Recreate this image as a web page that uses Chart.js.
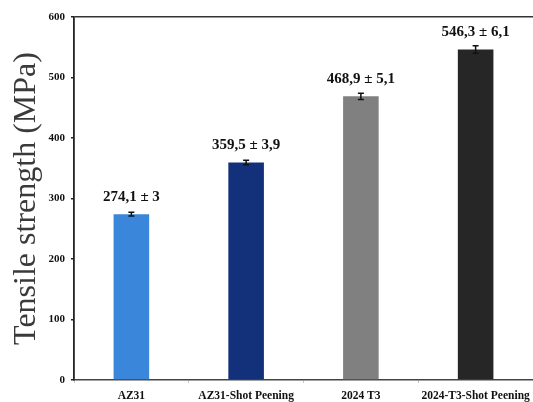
<!DOCTYPE html>
<html>
<head>
<meta charset="utf-8">
<script src="https://cdn.jsdelivr.net/npm/chart.js@4/dist/chart.umd.min.js"></script>
<style>
  html, body { margin: 0; padding: 0; background: #ffffff; }
  #wrap { width: 533px; height: 402px; }
</style>
</head>
<body>
<div id="wrap"><canvas id="chart" width="533" height="402"></canvas></div>
<script>
// Tensile strength of the four material conditions (MPa), with standard deviation
const categories = ['AZ31', 'AZ31-Shot Peening', '2024 T3', '2024-T3-Shot Peening'];
const strength = [274.1, 359.5, 468.9, 546.3];
const deviation = [3, 3.9, 5.1, 6.1];
const barColors = ['#3a86da', '#13317b', '#808080', '#262626'];
const yTicks = [0, 100, 200, 300, 400, 500, 600];

const serif = "'Liberation Serif', 'Times New Roman', serif";

function fmt(n) {
  return String(n).replace('.', ',');
}

// Error bars and "mean ± sd" labels above each bar
const errorBarsAndLabels = {
  id: 'errorBarsAndLabels',
  afterDatasetsDraw(chart) {
    const ctx = chart.ctx;
    const meta = chart.getDatasetMeta(0);
    const y = chart.scales.y;
    ctx.save();
    meta.data.forEach((bar, i) => {
      const cx = bar.x;
      const hi = y.getPixelForValue(strength[i] + deviation[i]);
      const lo = y.getPixelForValue(strength[i] - deviation[i]);
      ctx.strokeStyle = '#111';
      ctx.lineWidth = 1.5;
      ctx.beginPath();
      ctx.moveTo(cx, hi); ctx.lineTo(cx, lo);
      ctx.moveTo(cx - 3, hi); ctx.lineTo(cx + 3, hi);
      ctx.moveTo(cx - 3, lo); ctx.lineTo(cx + 3, lo);
      ctx.stroke();

      ctx.fillStyle = '#111';
      ctx.font = 'bold 15px ' + serif;
      ctx.textAlign = 'center';
      ctx.textBaseline = 'middle';
      const top = y.getPixelForValue(strength[i]);
      ctx.fillText(fmt(strength[i]) + ' ± ' + fmt(deviation[i]), cx, top - 17);
    });
    ctx.restore();
  }
};

new Chart(document.getElementById('chart'), {
  type: 'bar',
  data: {
    labels: categories,
    datasets: [{
      data: strength,
      backgroundColor: barColors,
      borderWidth: 0,
      categoryPercentage: 0.31,
      barPercentage: 1
    }]
  },
  options: {
    responsive: false,
    animation: false,
    layout: { padding: { top: 17, right: 0, bottom: 0, left: 0 } },
    plugins: {
      legend: { display: false },
      tooltip: { enabled: false }
    },
    scales: {
      x: {
        grid: {
          offset: true,
          drawOnChartArea: false,
          tickLength: 3,
          color: '#c8c8c8'
        },
        border: { display: true, color: '#444', width: 1.5 },
        ticks: {
          color: '#111',
          padding: 6,
          maxRotation: 0,
          autoSkip: false,
          font: { family: serif, weight: 'bold', size: 11.5 }
        },
        afterFit(scale) {
          scale.height = 22;
          scale.paddingLeft = 0;
          scale.paddingRight = 0;
        }
      },
      y: {
        min: 0,
        max: 600,
        afterBuildTicks(scale) { scale.ticks = yTicks.map(v => ({ value: v })); },
        grid: {
          drawOnChartArea: true,
          tickLength: 3,
          tickColor: '#222',
          color: ctx => (ctx.tick && ctx.tick.value === 600 ? '#333' : 'rgba(0,0,0,0)'),
          lineWidth: 1.5
        },
        border: { display: true, color: '#222', width: 1.8 },
        ticks: {
          color: '#111',
          padding: 6,
          font: { family: serif, weight: 'bold', size: 11 }
        },
        title: {
          display: true,
          text: 'Tensile strength (MPa)',
          color: '#3a3a3a',
          padding: { top: 7, bottom: 0 },
          font: { family: serif, size: 32, weight: 'normal' }
        },
        afterFit(scale) { scale.width = 74; }
      }
    }
  },
  plugins: [errorBarsAndLabels]
});
</script>
</body>
</html>
